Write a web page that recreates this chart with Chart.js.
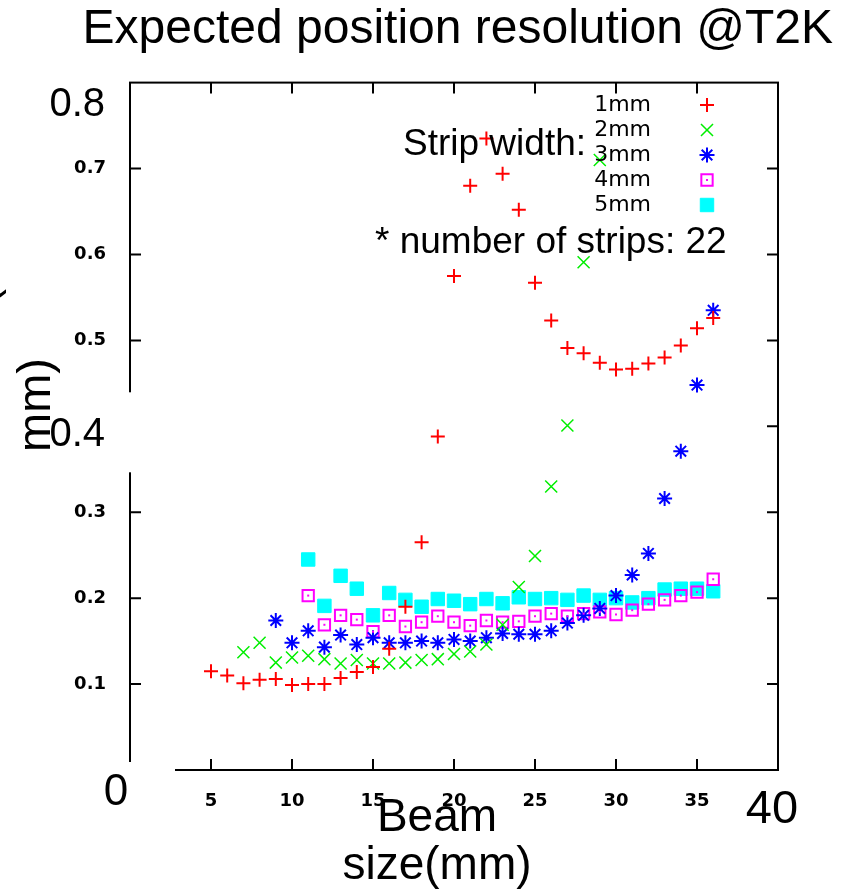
<!DOCTYPE html>
<html>
<head>
<meta charset="utf-8">
<title>Expected position resolution @T2K</title>
<script src="https://cdn.jsdelivr.net/npm/chart.js@4.4.0/dist/chart.umd.min.js"></script>
<style>
  html, body { margin: 0; padding: 0; background: #fff; }
</style>
</head>
<body>
<canvas id="myChart" width="859" height="892"></canvas>
<script>
// beam size (mm) and expected resolution (mm) per strip width
const beam1 = [5, 6, 7, 8, 9, 10, 11, 12, 13, 14, 15, 16, 17, 18, 19, 20, 21, 22, 23, 24, 25, 26, 27, 28, 29, 30, 31, 32, 33, 34, 35, 36];
const res1 = [0.115, 0.110, 0.101, 0.105, 0.106, 0.099, 0.100, 0.100, 0.107, 0.114, 0.120, 0.141, 0.190, 0.265, 0.388, 0.575, 0.680, 0.735, 0.694, 0.652, 0.567, 0.523, 0.491, 0.485, 0.474, 0.466, 0.467, 0.473, 0.480, 0.494, 0.514, 0.526];

const beam2 = [7, 8, 9, 10, 11, 12, 13, 14, 15, 16, 17, 18, 19, 20, 21, 22, 23, 24, 25, 26, 27, 28, 29];
const res2 = [0.137, 0.148, 0.125, 0.131, 0.133, 0.129, 0.124, 0.128, 0.124, 0.124, 0.125, 0.128, 0.129, 0.135, 0.138, 0.146, 0.169, 0.213, 0.249, 0.330, 0.401, 0.591, 0.710];

const beam3 = [9, 10, 11, 12, 13, 14, 15, 16, 17, 18, 19, 20, 21, 22, 23, 24, 25, 26, 27, 28, 29, 30, 31, 32, 33, 34, 35, 36];
const res3 = [0.174, 0.148, 0.162, 0.143, 0.157, 0.146, 0.154, 0.148, 0.148, 0.150, 0.148, 0.152, 0.150, 0.154, 0.159, 0.158, 0.158, 0.162, 0.171, 0.180, 0.188, 0.203, 0.227, 0.252, 0.316, 0.371, 0.448, 0.535];

const beam4 = [11, 12, 13, 14, 15, 16, 17, 18, 19, 20, 21, 22, 23, 24, 25, 26, 27, 28, 29, 30, 31, 32, 33, 34, 35, 36];
const res4 = [0.203, 0.169, 0.180, 0.175, 0.161, 0.180, 0.167, 0.172, 0.179, 0.172, 0.168, 0.174, 0.172, 0.173, 0.179, 0.182, 0.179, 0.182, 0.184, 0.181, 0.186, 0.193, 0.198, 0.203, 0.207, 0.222];

const beam5 = [11, 12, 13, 14, 15, 16, 17, 18, 19, 20, 21, 22, 23, 24, 25, 26, 27, 28, 29, 30, 31, 32, 33, 34, 35, 36];
const res5 = [0.245, 0.191, 0.226, 0.211, 0.180, 0.206, 0.198, 0.190, 0.199, 0.197, 0.193, 0.199, 0.194, 0.201, 0.199, 0.200, 0.198, 0.203, 0.198, 0.200, 0.195, 0.200, 0.210, 0.211, 0.211, 0.208];

const stripLabels = ['1mm', '2mm', '3mm', '4mm', '5mm'];
const xTicks = [5, 10, 15, 20, 25, 30, 35];
const yTicks = [0.1, 0.2, 0.3, 0.5, 0.6, 0.7];
const yTicksLeft = [0.1, 0.2, 0.3, 0.5, 0.6, 0.7];
const yTicksRight = [0.1, 0.2, 0.3, 0.4, 0.5, 0.6, 0.7];
const bigYLabels = [0.8, 0.4];
const bigXLabels = [0, 40];

const pts = (xs, ys) => xs.map((v, i) => ({ x: v, y: ys[i] }));

const SANS = 'Liberation Sans, Arial, sans-serif';
const GP = 'DejaVu Sans, sans-serif';

// gnuplot style frame with inward ticks, plus the pasted-on labels
const decor = {
  id: 'decor',
  beforeDatasetsDraw(chart) {
    const { ctx, chartArea: a, scales: { x, y } } = chart;
    ctx.save();
    ctx.strokeStyle = '#000';
    ctx.lineWidth = 2;
    ctx.strokeRect(a.left, a.top, a.right - a.left, a.bottom - a.top);
    ctx.beginPath();
    xTicks.forEach(v => {
      const px = x.getPixelForValue(v);
      ctx.moveTo(px, a.bottom); ctx.lineTo(px, a.bottom - 11);
      ctx.moveTo(px, a.top); ctx.lineTo(px, a.top + 11);
    });
    yTicksLeft.forEach(v => {
      const py = y.getPixelForValue(v);
      ctx.moveTo(a.left, py); ctx.lineTo(a.left + 11, py);
    });
    yTicksRight.forEach(v => {
      const py = y.getPixelForValue(v);
      ctx.moveTo(a.right, py); ctx.lineTo(a.right - 11, py);
    });
    ctx.stroke();
    ctx.restore();
  },
  afterDatasetsDraw(chart) {
    // small dot in the middle of the open squares
    const { ctx } = chart;
    ctx.save();
    ctx.fillStyle = '#ff00ff';
    chart.getDatasetMeta(3).data.forEach(el => {
      ctx.fillRect(el.x - 1, el.y - 1, 2, 2);
    });
    ctx.restore();
  },
  afterDraw(chart) {
    const { ctx, chartArea: a, scales: { x, y } } = chart;
    ctx.save();

    // white boxes of the overlaid labels
    ctx.fillStyle = '#fff';
    ctx.fillRect(45, y.getPixelForValue(0.4) - 34, a.left - 45 + 2, 80);
    ctx.fillRect(95, a.bottom - 8, 80, 60);

    ctx.fillStyle = '#000';
    ctx.textBaseline = 'middle';
    ctx.textAlign = 'right';
    ctx.font = '40px ' + SANS;
    ctx.fillText(bigYLabels[0].toFixed(1), a.left - 25, y.getPixelForValue(bigYLabels[0]) + 22);
    ctx.fillText(bigYLabels[1].toFixed(1), a.left - 25, y.getPixelForValue(bigYLabels[1]) + 9);

    ctx.textAlign = 'center';
    ctx.font = '44px ' + SANS;
    ctx.fillText(String(bigXLabels[0]), x.getPixelForValue(bigXLabels[0]) - 14, a.bottom + 23);
    ctx.font = '47px ' + SANS;
    ctx.fillText(String(bigXLabels[1]), x.getPixelForValue(bigXLabels[1]) - 6, a.bottom + 40);

    // axis titles
    ctx.textBaseline = 'alphabetic';
    ctx.font = '46px ' + SANS;
    ctx.fillText('Beam', 437, 831);
    ctx.fillText('size(mm)', 437, 879);

    ctx.save();
    ctx.translate(50, 405);
    ctx.rotate(-Math.PI / 2);
    ctx.font = '47px ' + SANS;
    ctx.fillText('mm)', 0, 0);
    ctx.fillText('resolution (', 0, -54);
    ctx.restore();

    // annotations
    ctx.textAlign = 'left';
    ctx.font = '37px ' + SANS;
    ctx.fillText('Strip width:', 403, 155);
    ctx.fillText('* number of strips: 22', 375, 253);

    // key
    ctx.font = '22px ' + GP;
    ctx.textAlign = 'right';
    ctx.textBaseline = 'middle';
    chart.data.datasets.forEach((ds, i) => {
      const ly = 105 + i * 25;
      ctx.fillStyle = '#000';
      ctx.fillText(ds.label, 651, ly);
      ctx.strokeStyle = ds.borderColor;
      ctx.fillStyle = ds.backgroundColor;
      ctx.lineWidth = ds.borderWidth;
      Chart.helpers.drawPoint(ctx, {
        pointStyle: ds.pointStyle, radius: ds.pointRadius, rotation: 0, borderWidth: ds.borderWidth
      }, 707, ly);
      if (i === 3) {
        ctx.fillStyle = ds.borderColor;
        ctx.fillRect(706, ly - 1, 2, 2);
      }
    });
    ctx.restore();
  }
};

const ctx = document.getElementById('myChart').getContext('2d');

const myChart = new Chart(ctx, {
  type: 'scatter',
  data: {
    datasets: [
      { label: stripLabels[0], data: pts(beam1, res1), pointStyle: 'cross', pointRadius: 7, borderWidth: 2, borderColor: '#ff0000', backgroundColor: '#ff0000' },
      { label: stripLabels[1], data: pts(beam2, res2), pointStyle: 'crossRot', pointRadius: 8.5, borderWidth: 1.5, borderColor: '#00ee00', backgroundColor: '#00ee00' },
      { label: stripLabels[2], data: pts(beam3, res3), pointStyle: 'star', pointRadius: 7.5, borderWidth: 2, borderColor: '#0000ff', backgroundColor: '#0000ff' },
      { label: stripLabels[3], data: pts(beam4, res4), pointStyle: 'rect', pointRadius: 8, borderWidth: 2, borderColor: '#ff00ff', backgroundColor: 'rgba(0,0,0,0)' },
      { label: stripLabels[4], data: pts(beam5, res5), pointStyle: 'rect', pointRadius: 9.5, borderWidth: 1, borderColor: '#00ffff', backgroundColor: '#00ffff' }
    ]
  },
  options: {
    responsive: false,
    animation: false,
    events: [],
    layout: { padding: { left: 0, right: 26, top: 0, bottom: 0 } },
    plugins: {
      legend: { display: false },
      tooltip: { enabled: false },
      title: {
        display: true,
        text: 'Expected position resolution @T2K',
        align: 'end',
        color: '#000',
        font: { family: SANS, size: 48, weight: 'normal' },
        padding: { top: 1, bottom: 24 }
      }
    },
    scales: {
      x: {
        type: 'linear',
        min: 0,
        max: 40,
        afterBuildTicks: s => { s.ticks = xTicks.map(v => ({ value: v })); },
        afterFit: s => { s.height = 122; },
        grid: { display: false },
        border: { display: false },
        ticks: { color: '#000', font: { family: GP, size: 18, weight: 'bold' }, padding: 13, maxRotation: 0, autoSkip: false, callback: v => String(v) }
      },
      y: {
        type: 'linear',
        min: 0,
        max: 0.8,
        afterBuildTicks: s => { s.ticks = yTicks.map(v => ({ value: v })); },
        afterFit: s => { s.width = 130; },
        grid: { display: false },
        border: { display: false },
        ticks: { color: '#000', font: { family: GP, size: 18, weight: 'bold' }, padding: 16, autoSkip: false, callback: v => v.toFixed(1) }
      },
      y2: {
        type: 'linear',
        position: 'right',
        display: true,
        min: 0,
        max: 1,
        afterFit: s => { s.width = 55; },
        grid: { display: false },
        border: { display: false },
        ticks: { display: false }
      }
    }
  },
  plugins: [decor]
});
</script>
</body>
</html>
